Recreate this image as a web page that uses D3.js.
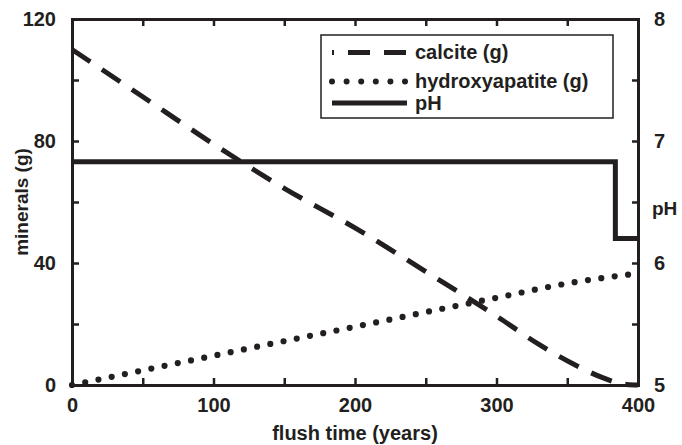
<!DOCTYPE html>
<html>
<head>
<meta charset="utf-8">
<script src="https://cdn.jsdelivr.net/npm/d3@7"></script>
<style>
  body { margin: 0; background: #fff; }
  svg { display: block; }
  text { font-family: "Liberation Sans", Arial, sans-serif; font-weight: bold; fill: #231f20; }
</style>
</head>
<body>
<svg width="682" height="445"></svg>
<script>
// calcite (g) over flush time
var calciteYears = [0, 50, 100, 150, 200, 250, 300, 330, 355, 375, 385, 392, 400]
var calciteGrams = [110, 94.5, 79, 64.5, 51.5, 37.2, 22.6, 13.3, 6.7, 2.4, 0.8, 0.2, 0]
// hydroxyapatite (g)
var hapYears = [0, 50, 100, 150, 200, 250, 300, 350, 400]
var hapGrams = [0, 4.8, 9.6, 14.4, 19.1, 23.9, 28.6, 33.3, 36.6]
// pH (right axis)
var phYears = [0, 384, 400]
var phValues = [6.83, 6.2, 6.2]

var xTicks = [0, 50, 100, 150, 200, 250, 300, 350, 400]
var xLabels = [0, 100, 200, 300, 400]
var yTicks = [0, 20, 40, 60, 80, 100, 120]
var yLabels = [0, 40, 80, 120]
var phTicks = [5, 5.5, 6, 6.5, 7, 7.5, 8]
var phLabels = [5, 6, 7, 8]

var ink = "#231f20"
var svg = d3.select("svg")
var margin = {left: 72, right: 44, top: 19, bottom: 60}
var width = 682, height = 445

var x = d3.scaleLinear().domain([0, 400]).range([margin.left, width - margin.right])
var y = d3.scaleLinear().domain([0, 120]).range([height - margin.bottom, margin.top])
var yPh = d3.scaleLinear().domain([5, 8]).range([height - margin.bottom, margin.top])

var fmt = d => yLabels.indexOf(d) >= 0 ? d : ""

// axes, ticks pointing inward
svg.append("g")
    .attr("transform", `translate(0,${y(0)})`)
    .call(d3.axisBottom(x).tickValues(xTicks).tickSize(-7).tickPadding(13)
      .tickFormat(d => xLabels.indexOf(d) >= 0 ? d : ""))
svg.append("g")
    .attr("transform", `translate(0,${y(120)})`)
    .call(d3.axisTop(x).tickValues(xTicks).tickSize(-7).tickFormat(""))
svg.append("g")
    .attr("transform", `translate(${x(0)},0)`)
    .call(d3.axisLeft(y).tickValues(yTicks).tickSize(-7).tickPadding(16).tickFormat(fmt))
svg.append("g")
    .attr("transform", `translate(${x(400)},0)`)
    .call(d3.axisRight(yPh).tickValues(phTicks).tickSize(-6).tickPadding(16)
      .tickFormat(d => phLabels.indexOf(d) >= 0 ? d : ""))

svg.selectAll(".domain").attr("stroke", ink).attr("stroke-width", 3)
svg.selectAll(".tick line").attr("stroke", ink).attr("stroke-width", 2.5)
svg.selectAll(".tick text").style("font-size", "20px").attr("fill", ink)
svg.selectAll(".tick").filter(d => d === 0 || d === 400 || d === 120 || d === 5 || d === 8)
    .select("line").remove()

// axis titles
svg.append("text")
    .attr("x", (x(0) + x(400)) / 2).attr("y", 440)
    .attr("text-anchor", "middle").style("font-size", "20px")
    .text("flush time (years)")
svg.append("text")
    .attr("transform", `translate(28,${(y(0) + y(120)) / 2}) rotate(-90)`)
    .attr("text-anchor", "middle").style("font-size", "19px")
    .text("minerals (g)")
svg.append("text")
    .attr("x", 652).attr("y", 215)
    .style("font-size", "19px")
    .text("pH")

// series
var calcite = calciteYears.map((d, i) => [d, calciteGrams[i]])
var hap = hapYears.map((d, i) => [d, hapGrams[i]])
var ph = phYears.map((d, i) => [d, phValues[i]])

var line = d3.line().x(d => x(d[0])).y(d => y(d[1])).curve(d3.curveMonotoneX)
var phLine = d3.line().x(d => x(d[0])).y(d => yPh(d[1])).curve(d3.curveStepAfter)

svg.append("path")
    .attr("d", line(calcite))
    .attr("fill", "none").attr("stroke", ink)
    .attr("stroke-width", 5).attr("stroke-dasharray", "22,14")
svg.append("path")
    .attr("d", line(hap))
    .attr("fill", "none").attr("stroke", ink)
    .attr("stroke-width", 6.2).attr("stroke-linecap", "round")
    .attr("stroke-dasharray", "0,13.5")
svg.append("path")
    .attr("d", phLine(ph))
    .attr("fill", "none").attr("stroke", ink)
    .attr("stroke-width", 5)

// legend
var legend = svg.append("g")
legend.append("rect")
    .attr("x", 321).attr("y", 35).attr("width", 292).attr("height", 83)
    .attr("fill", "#fff").attr("stroke", ink).attr("stroke-width", 1.5)
var items = [
  {name: "calcite (g)", y: 52.5, dash: "22,14", offset: 20, cap: "butt", w: 5},
  {name: "hydroxyapatite (g)", y: 81.5, dash: "0,14.6", offset: 0, cap: "round", w: 6},
  {name: "pH", y: 103, dash: null, offset: 0, cap: "butt", w: 5}
]
items.forEach(it => {
  legend.append("line")
      .attr("x1", 332).attr("x2", 407).attr("y1", it.y).attr("y2", it.y)
      .attr("stroke", ink).attr("stroke-width", it.w)
      .attr("stroke-linecap", it.cap)
      .attr("stroke-dasharray", it.dash)
      .attr("stroke-dashoffset", it.offset)
  legend.append("text")
      .attr("x", 415).attr("y", it.y + 6.5)
      .style("font-size", "20px")
      .text(it.name)
})
</script>
</body>
</html>
